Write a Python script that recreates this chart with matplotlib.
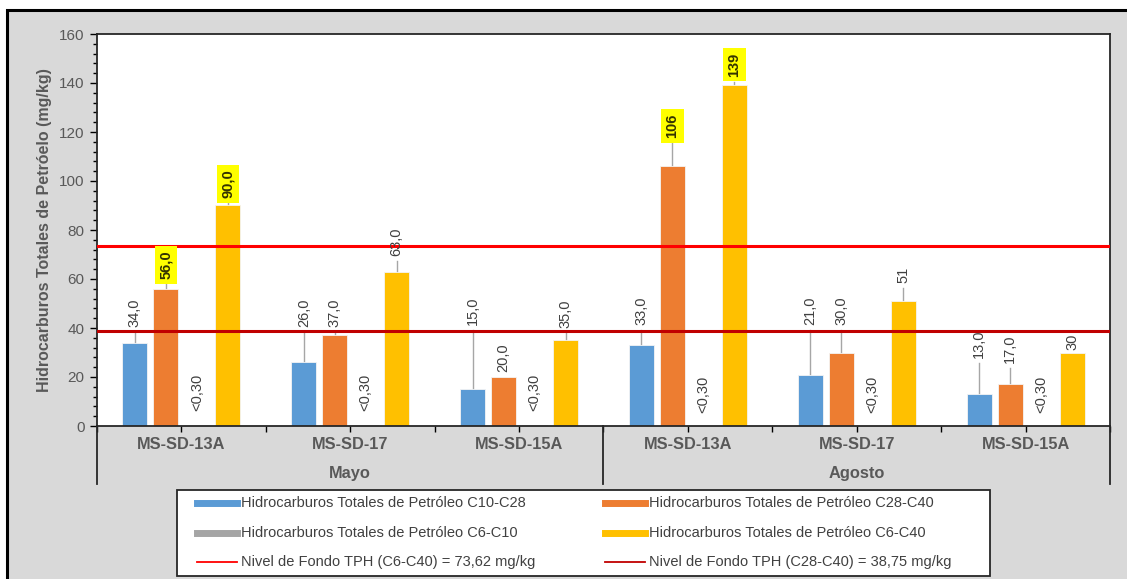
import matplotlib.pyplot as plt
from matplotlib.lines import Line2D
from matplotlib.patches import Rectangle
import matplotlib.transforms as mtransforms

plt.rcParams['font.family'] = ['Liberation Sans', 'DejaVu Sans']

# data
sites = ["MS-SD-13A", "MS-SD-17", "MS-SD-15A", "MS-SD-13A", "MS-SD-17", "MS-SD-15A"]
months = ["Mayo", "Agosto"]
c10_c28 = [34, 26, 15, 33, 21, 13]
c28_c40 = [56, 37, 20, 106, 30, 17]
c6_c10 = [0.3, 0.3, 0.3, 0, 0, 0]
c6_c40 = [90, 63, 35, 139, 51, 30]
lab_c10_c28 = ["34,0", "26,0", "15,0", "33,0", "21,0", "13,0"]
lab_c28_c40 = ["56,0", "37,0", "20,0", "106", "30,0", "17,0"]
lab_c6_c10 = ["<0,30"] * 6
lab_c6_c40 = ["90,0", "63,0", "35,0", "139", "51", "30"]
nivel_c6_c40 = 73.62
nivel_c28_c40 = 38.75

# where each label sits (bottom of text, in data units)
pos_c10_c28 = [40.4, 40.4, 41.2, 41.2, 41.2, 27.8]
pos_c28_c40 = [59.9, 40.4, 22.0, 117.5, 41.2, 25.7]
pos_c6_c10 = [6.0, 6.0, 6.0, 5.5, 5.5, 5.5]
pos_c6_c40 = [92.9, 69.4, 40.0, 142.5, 58.4, 31.0]

col_blue, col_orange, col_gray, col_yellow = "#5b9bd5", "#ed7d31", "#a5a5a5", "#ffc000"
txt = "#595959"

W, H = 1127, 579
fig = plt.figure(figsize=(W / 100, H / 100), dpi=100)
fig.patches.append(Rectangle((7 / W, -0.1), 1.2, 1 - 10 / H + 0.1, transform=fig.transFigure,
                             facecolor="#d9d9d9", edgecolor="black", linewidth=2.2, zorder=-10))

ax = fig.add_axes([97 / W, 1 - 426 / H, (1110 - 97) / W, (426 - 34) / H])
ax.set_facecolor("white")

x = list(range(len(sites)))
w = 0.148
step = 0.1835
series = [
    (c10_c28, lab_c10_c28, pos_c10_c28, col_blue, "Hidrocarburos Totales de Petróleo C10-C28", None),
    (c28_c40, lab_c28_c40, pos_c28_c40, col_orange, "Hidrocarburos Totales de Petróleo C28-C40", nivel_c28_c40),
    (c6_c10, lab_c6_c10, pos_c6_c10, col_gray, "Hidrocarburos Totales de Petróleo C6-C10", None),
    (c6_c40, lab_c6_c40, pos_c6_c40, col_yellow, "Hidrocarburos Totales de Petróleo C6-C40", nivel_c6_c40),
]
for k, (vals, labs, poss, col, name, lim) in enumerate(series):
    xs = [i + (k - 1.5) * step for i in x]
    ax.bar(xs, vals, width=w, color=col, edgecolor="#f4f4f4", linewidth=0.6, zorder=2)
    for xi, v, lab, p in zip(xs, vals, labs, poss):
        hi = lim is not None and v > lim
        if v > 1 and p - v > 2.5:
            ax.plot([xi, xi], [v, p - 2.0], color="#a6a6a6", lw=1, zorder=1)
        kw = dict(rotation=90, ha="center", va="bottom", fontsize=10.5, color="#404040", zorder=5)
        if hi:
            kw.update(fontweight="bold", color="#333300",
                      bbox=dict(boxstyle="square,pad=0.3", facecolor="#ffff00", edgecolor="none"))
        ax.text(xi, p, lab, **kw)

ax.axhline(nivel_c6_c40, color="#ff0000", lw=2.2, zorder=3)
ax.axhline(nivel_c28_c40, color="#c00000", lw=2.2, zorder=3)

ax.set_xlim(-0.5, len(sites) - 0.5)
ax.set_ylim(0, 160)
ax.set_yticks(range(0, 161, 20))
ax.set_yticks(range(0, 161, 4), minor=True)
ax.tick_params(axis="y", which="major", length=5, width=1, labelsize=11, labelcolor=txt, pad=4)
ax.tick_params(axis="y", which="minor", length=3, width=1)
ax.set_xticks([i * 0.5 - 0.5 for i in range(2 * len(sites) + 1)])
ax.set_xticklabels([])
ax.tick_params(axis="x", length=4, width=1, direction="out")
for s in ax.spines.values():
    s.set_color("#262626")
    s.set_linewidth(1.3)

ax.set_ylabel("Hidrocarburos Totales de Petróelo (mg/kg)", fontsize=11.5, fontweight="bold",
              color=txt, labelpad=5)

tr = mtransforms.blended_transform_factory(ax.transData, ax.transAxes)
for i, s in enumerate(sites):
    ax.text(i, -0.048, s, transform=tr, ha="center", va="center", fontsize=11.8,
            fontweight="bold", color=txt)
for j, m in enumerate(months):
    ax.text(1 + 3 * j, -0.12, m, transform=tr, ha="center", va="center", fontsize=11.8,
            fontweight="bold", color=txt)
for xb in [-0.5, 2.5, 5.5]:
    ax.plot([xb, xb], [0, -0.148], transform=tr, color="#262626", lw=1.3, clip_on=False)

# legend drawn by hand in pixel positions of the figure
fig.patches.append(Rectangle((177 / W, 1 - 576 / H), (990 - 177) / W, (576 - 490) / H,
                             transform=fig.transFigure, facecolor="white",
                             edgecolor="#262626", linewidth=1.3, zorder=5))
entries = [
    (col_blue, 5, series[0][4]), (col_orange, 5, series[1][4]),
    (col_gray, 5, series[2][4]), (col_yellow, 5, series[3][4]),
    ("#ff0000", 1.3, "Nivel de Fondo TPH (C6-C40) = 73,62 mg/kg"),
    ("#c00000", 1.3, "Nivel de Fondo TPH (C28-C40) = 38,75 mg/kg"),
]
col_x = [197, 605]
row_y = [503, 533, 562]
for n, (c, lw, name) in enumerate(entries):
    hx = col_x[n % 2]
    hy = 1 - row_y[n // 2] / H
    fig.add_artist(Line2D([hx / W, (hx + 40) / W], [hy, hy], color=c, lw=lw,
                          transform=fig.transFigure, zorder=6))
    fig.text((hx + 44) / W, hy, name, ha="left", va="center", fontsize=10.5,
             color="#404040", zorder=6)

fig.savefig("out.png", dpi=100)
